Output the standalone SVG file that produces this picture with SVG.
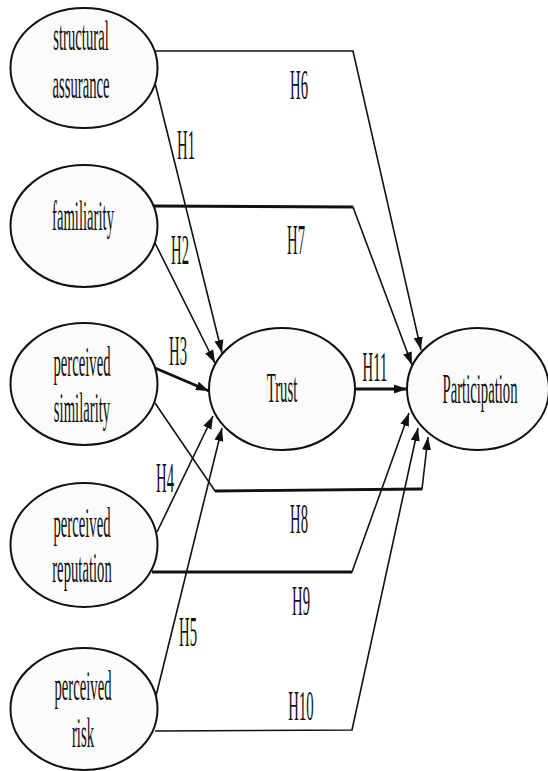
<svg xmlns="http://www.w3.org/2000/svg" width="548" height="771" viewBox="0 0 548 771">
<defs>
<marker id="arr" markerUnits="userSpaceOnUse" markerWidth="14" markerHeight="10" refX="13" refY="5" orient="auto">
<path d="M0,0.5 L13,5 L0,9.5 z" fill="#111"/>
</marker>
<style>
.node ellipse{fill:#fbfbfb;stroke:#111;stroke-width:2}
text{font-family:"Liberation Serif","Times New Roman",serif;font-size:42px;fill:#111;text-anchor:middle}
.c path{fill:none;stroke:#111;stroke-width:1.6;stroke-linejoin:miter}
.c .b{stroke-width:2.8}
</style>
</defs>
<rect width="548" height="771" fill="#fff"/>

<g id="connectors" class="c">
<path d="M155,51 L353,51 L421,350" marker-end="url(#arr)"/>
<path d="M153,206 L353,207 L412,365" marker-end="url(#arr)"/>
<path class="b" d="M153,206 L353,207"/>
<path d="M155,83 L222,353" marker-end="url(#arr)"/>
<path d="M155,243 L215,363" marker-end="url(#arr)"/>
<path class="b" d="M155,368 L209,391" marker-end="url(#arr)"/>
<path d="M157,532 L213,416" marker-end="url(#arr)"/>
<path d="M155,700 L222,428" marker-end="url(#arr)"/>
<path d="M155,403 L215,491 L422,489 L428,437" marker-end="url(#arr)"/>
<path class="b" d="M215,491 L422,489"/>
<path d="M152,572 L352,572 L409,413" marker-end="url(#arr)"/>
<path class="b" d="M152,572 L352,572"/>
<path d="M155,731 L352,730 L418,428" marker-end="url(#arr)"/>
<path class="b" d="M355,389 L407,389" marker-end="url(#arr)"/>
</g>

<g id="structural-assurance" class="node">
<ellipse cx="84" cy="68" rx="73.5" ry="60"/>
<text transform="translate(81,50) scale(0.35,1)">structural</text>
<text transform="translate(81,98) scale(0.35,1)">assurance</text>
</g>
<g id="familiarity" class="node">
<ellipse cx="84" cy="226" rx="73.5" ry="61"/>
<text transform="translate(83,230) scale(0.35,1)">familiarity</text>
</g>
<g id="perceived-similarity" class="node">
<ellipse cx="84" cy="384" rx="73.5" ry="61"/>
<text transform="translate(82,376) scale(0.35,1)">perceived</text>
<text transform="translate(82,422) scale(0.35,1)">similarity</text>
</g>
<g id="perceived-reputation" class="node">
<ellipse cx="84" cy="545" rx="73.5" ry="62"/>
<text transform="translate(82,537) scale(0.35,1)">perceived</text>
<text transform="translate(82,582) scale(0.35,1)">reputation</text>
</g>
<g id="perceived-risk" class="node">
<ellipse cx="84" cy="709" rx="73.5" ry="61"/>
<text transform="translate(83,700) scale(0.35,1)">perceived</text>
<text transform="translate(83,747) scale(0.35,1)">risk</text>
</g>
<g id="trust" class="node">
<ellipse cx="282" cy="389" rx="73" ry="61"/>
<text transform="translate(282,402) scale(0.35,1)">Trust</text>
</g>
<g id="participation" class="node">
<ellipse cx="478" cy="389" rx="71" ry="61"/>
<text transform="translate(480,403) scale(0.35,1)">Participation</text>
</g>

<g id="labels">
<text transform="translate(186,159) scale(0.35,1)">H1</text>
<text transform="translate(180,264) scale(0.35,1)">H2</text>
<text transform="translate(178,365) scale(0.35,1)">H3</text>
<text transform="translate(165,492) scale(0.35,1)">H4</text>
<text transform="translate(188,646) scale(0.35,1)">H5</text>
<text transform="translate(299,99) scale(0.35,1)">H6</text>
<text transform="translate(296,254) scale(0.35,1)">H7</text>
<text transform="translate(299,533) scale(0.35,1)">H8</text>
<text transform="translate(301,615) scale(0.35,1)">H9</text>
<text transform="translate(301,720) scale(0.35,1)">H10</text>
<text transform="translate(375,381) scale(0.35,1)">H11</text>
</g>
</svg>
